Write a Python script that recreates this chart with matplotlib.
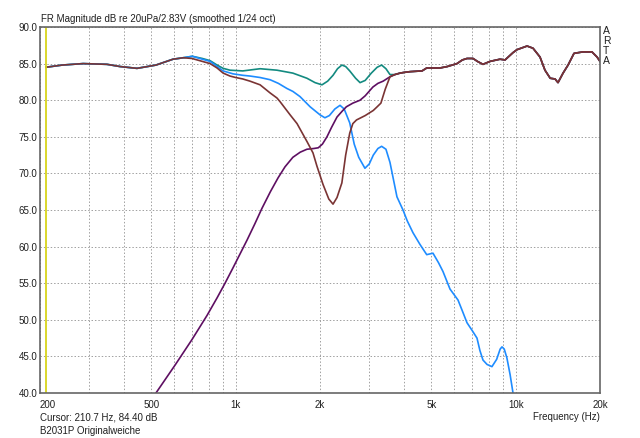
import numpy as np
import matplotlib
matplotlib.use('Agg')
import matplotlib.pyplot as plt
from matplotlib.ticker import FixedLocator, NullFormatter

plt.rcParams['font.family'] = ['Liberation Sans', 'DejaVu Sans']

# shared low end (woofer, sum, inverted sum)
lo_f = [210, 240, 285, 347, 386, 444, 519, 597, 650]
lo_db = [84.5, 84.8, 85.0, 84.9, 84.6, 84.35, 84.8, 85.6, 85.8]

# shared high end (all four curves)
hi_f = [3862, 4000, 4194, 4628, 4810, 5364, 5700, 6170, 6450, 6699, 7040, 7300,
        7640, 8094, 8787, 9160, 9780, 10100, 10980, 11530, 12210, 12720, 13280,
        13820, 14160, 14760, 15380, 16150, 17380, 18720, 19520, 20000]
hi_db = [83.7, 83.8, 83.9, 84.0, 84.4, 84.4, 84.6, 85.0, 85.5, 85.7, 85.7, 85.3,
         84.9, 85.3, 85.6, 85.5, 86.5, 86.9, 87.4, 87.1, 85.9, 84.1, 83.0,
         82.9, 82.4, 83.7, 84.8, 86.4, 86.6, 86.6, 85.9, 85.3]

# sum (teal)
sum_f = [700, 760, 810, 858, 902, 954, 1060, 1222, 1404, 1600, 1796, 1920, 2033,
         2130, 2226, 2310, 2394, 2470, 2554, 2680, 2780, 2900, 3050, 3200, 3320,
         3440, 3556, 3700]
sum_db = [86.0, 85.7, 85.4, 84.8, 84.35, 84.1, 84.0, 84.3, 84.1, 83.7, 83.0, 82.4, 82.1,
          82.6, 83.4, 84.3, 84.8, 84.6, 84.0, 83.0, 82.4, 82.7, 83.7, 84.5, 84.8,
          84.3, 83.5, 83.5]

# woofer (blue)
woof_f = [700, 760, 810, 858, 902, 978, 1060, 1125, 1222, 1326, 1420, 1524, 1600,
          1696, 1844, 2000, 2082, 2160, 2260, 2358, 2440, 2554, 2650, 2750, 2894,
          3000, 3100, 3220, 3320, 3440, 3556, 3766, 3958, 4100, 4296, 4550, 4810,
          5064, 5300, 5498, 5825, 6222, 6450, 6699, 7000, 7273, 7450, 7640, 7900,
          8225, 8550, 8800, 8934, 9100, 9300, 9550, 9780, 10000]
woof_db = [86.0, 85.6, 85.3, 84.6, 84.0, 83.6, 83.4, 83.3, 83.1, 82.8, 82.3, 81.6, 81.2,
           80.5, 79.1, 78.0, 77.6, 77.9, 78.8, 79.3, 78.8, 76.9, 74.0, 72.2, 70.7,
           71.3, 72.5, 73.4, 73.7, 73.3, 71.5, 66.8, 65.0, 63.5, 61.9, 60.3, 58.9,
           59.1, 57.8, 56.6, 54.2, 52.7, 51.2, 49.6, 48.5, 47.5, 45.8, 44.5, 43.9,
           43.6, 44.6, 46.0, 46.3, 46.0, 44.8, 42.5, 40.0, 38.5]

# tweeter (purple)
tw_f = [519, 607, 698, 790, 858, 916, 978, 1098, 1170, 1240, 1330, 1417, 1500,
        1600, 1700, 1796, 1900, 1972, 2040, 2118, 2200, 2300, 2400, 2484, 2620,
        2780, 2900, 3090, 3220, 3360, 3556, 3700]
tw_db = [40.0, 43.8, 47.3, 50.6, 53.0, 55.0, 57.1, 60.9, 63.1, 65.2, 67.5, 69.4, 70.9,
         72.2, 72.9, 73.3, 73.4, 73.5, 74.0, 75.0, 76.3, 77.7, 78.5, 79.1, 79.6,
         80.0, 80.6, 81.8, 82.3, 82.6, 83.2, 83.5]

# inverted tweeter sum (brown)
inv_f = [698, 760, 810, 858, 902, 954, 1000, 1060, 1125, 1222, 1326, 1404, 1440,
         1564, 1656, 1800, 1888, 1950, 2050, 2150, 2226, 2300, 2394, 2470, 2554,
         2620, 2700, 2900, 3100, 3200, 3300, 3420, 3556, 3700]
inv_db = [85.7, 85.3, 85.0, 84.4, 83.7, 83.3, 83.1, 82.9, 82.6, 82.1, 81.0, 80.3, 79.8,
          78.0, 76.8, 74.3, 72.8, 71.0, 68.5, 66.5, 65.8, 66.7, 68.7, 72.5, 75.5,
          76.8, 77.3, 77.9, 78.6, 79.1, 79.6, 81.5, 83.2, 83.5]

cursor_f = 210.7

fig = plt.figure(figsize=(6.4, 4.38), dpi=100)
ax = fig.add_axes([40/640, 45/438, 560/640, 366/438])

series = [
    (lo_f + sum_f + hi_f, lo_db + sum_db + hi_db, '#138a80'),
    (lo_f + woof_f, lo_db + woof_db, '#1e8cff'),
    (tw_f + hi_f, tw_db + hi_db, '#5e0f62'),
    (lo_f + inv_f + hi_f, lo_db + inv_db + hi_db, '#7a3434'),
]
for f, db, c in series:
    ax.plot(f, db, color=c, lw=1.2, solid_joinstyle='round')

ax.axvline(cursor_f, color='#d8d41c', lw=1.3)

ax.set_xscale('log')
ax.set_xlim(200, 20000)
ax.set_ylim(40, 90)

grid_x = [f for dec in (100, 1000, 10000) for f in np.arange(1, 10) * dec if 200 < f < 20000]
ax.xaxis.set_minor_locator(FixedLocator(grid_x))
ax.xaxis.set_minor_formatter(NullFormatter())
xt = [200, 500, 1000, 2000, 5000, 10000, 20000]
ax.set_xticks(xt)
ax.set_xticklabels(['200', '500', '1k', '2k', '5k', '10k', '20k'])
ax.get_xticklabels()[0].set_horizontalalignment('left')
yt = np.arange(40, 91, 5)
ax.set_yticks(yt)
ax.set_yticklabels(['%.1f' % v for v in yt])
ax.tick_params(which='both', length=0, labelsize=7, colors='#202020')
ax.tick_params(axis='x', pad=5)
ax.tick_params(axis='y', pad=2)
ax.grid(which='both', axis='x', color='#a0a0a0', ls=(0, (1.5, 2)), lw=0.7)
ax.grid(which='major', axis='y', color='#a0a0a0', ls=(0, (1.5, 2)), lw=0.7)
ax.set_axisbelow(True)
for s in ax.spines.values():
    s.set_color('#666666')
    s.set_linewidth(1.2)

fs = 7
fig.text(41/640, 1 - 19/438, 'FR Magnitude dB re 20uPa/2.83V (smoothed 1/24 oct)',
         fontsize=fs, color='#202020', va='center', ha='left')
fig.text(40/640, 1 - 417/438, 'Cursor: 210.7 Hz, 84.40 dB',
         fontsize=fs, color='#202020', va='center', ha='left')
fig.text(40/640, 1 - 430.5/438, 'B2031P Originalweiche',
         fontsize=fs, color='#202020', va='center', ha='left')
fig.text(600/640, 1 - 417/438, 'Frequency (Hz)',
         fontsize=fs, color='#202020', va='center', ha='right')
fig.text(603/640, 1 - 26/438, 'A\nR\nT\nA', fontsize=7.5, color='#202020',
         va='top', ha='left', linespacing=0.98)

fig.savefig('out.png', dpi=100, facecolor='white')
